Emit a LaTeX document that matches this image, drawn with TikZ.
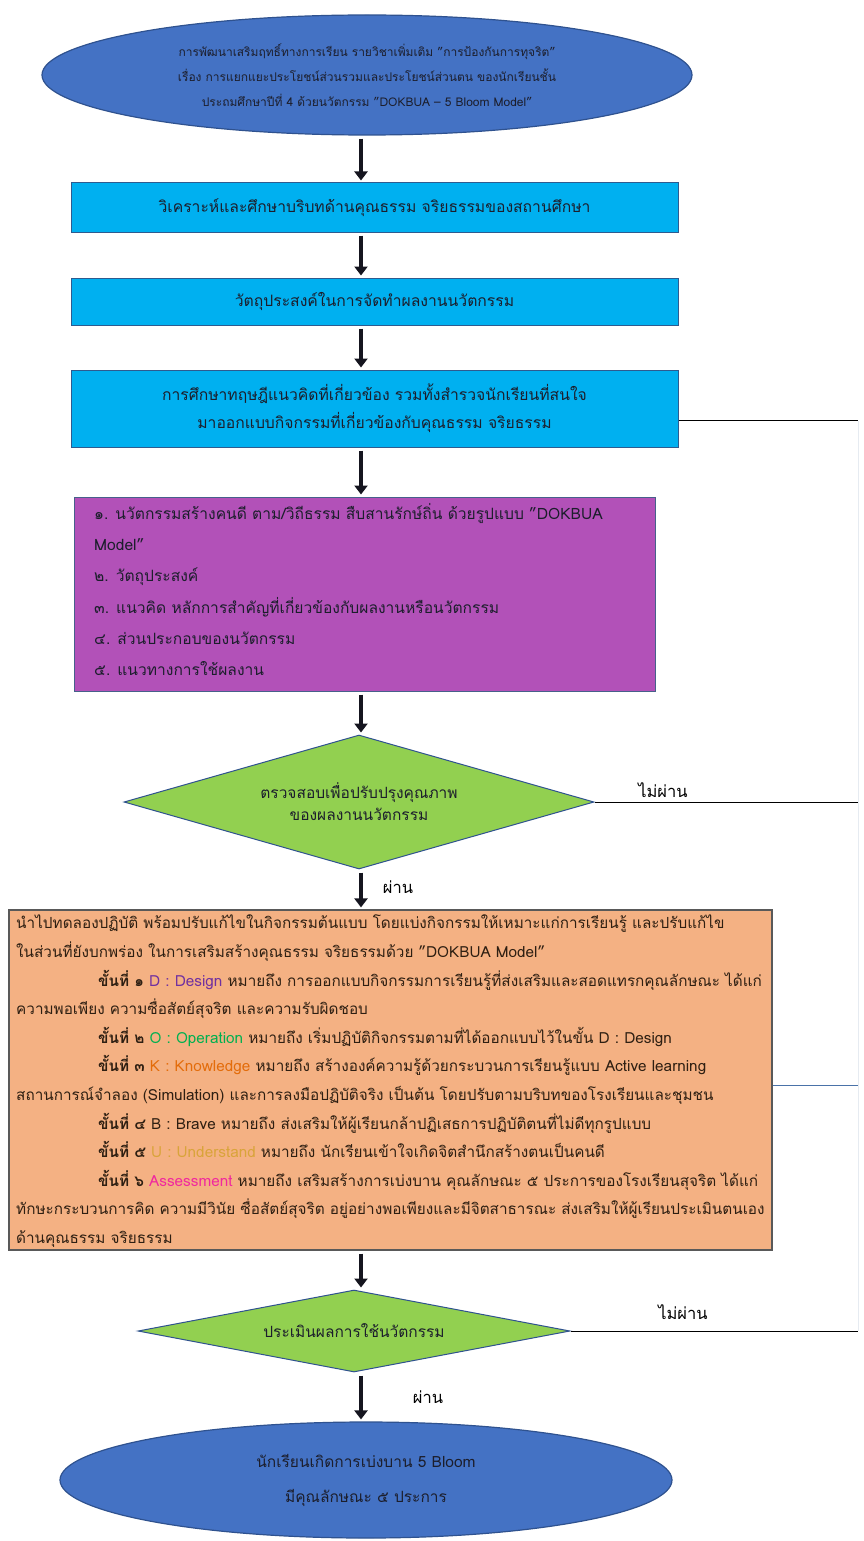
\documentclass[tikz,border=0pt]{standalone}
\usepackage{fontspec}
\setmainfont{Loma}[Script=Thai]
\usetikzlibrary{shapes.geometric,arrows.meta}
\definecolor{ellblue}{HTML}{4472C4}
\definecolor{ellline}{HTML}{2F528F}
\definecolor{cyanbox}{HTML}{00B0F0}
\definecolor{cyanline}{HTML}{2E5B8F}
\definecolor{purplebox}{HTML}{B251B8}
\definecolor{greendia}{HTML}{92D050}
\definecolor{orangebox}{HTML}{F4B183}
\definecolor{txtdark}{HTML}{1C1E2C}
\definecolor{txtbrown}{HTML}{2E1F12}
\definecolor{arrowc}{HTML}{15151F}
\definecolor{cD}{HTML}{7030A0}
\definecolor{cO}{HTML}{00B050}
\definecolor{cK}{HTML}{E36C0A}
\definecolor{cB}{HTML}{2E1F12}
\definecolor{cU}{HTML}{D9A43A}
\definecolor{cA}{HTML}{F0289E}
\definecolor{rline}{HTML}{4A72A8}
\definecolor{faint}{HTML}{E6EBF1}
\newcommand{\ind}{\hspace*{82pt}}
\begin{document}
\begin{tikzpicture}[x=1pt,y=-1pt,
  bodyfont/.style={font=\fontsize{15.3}{28.6}\selectfont},
  bigarrow/.style={line width=4.5pt, draw=arrowc, -{Triangle[width=13pt,length=9pt]}, shorten <=3pt, shorten >=2pt},
  ellnode/.style={ellipse, fill=ellblue, draw=ellline, line width=1.2pt, inner sep=0pt, align=center, text=txtdark},
  cbox/.style={rectangle, fill=cyanbox, draw=cyanline, line width=1pt, minimum width=607pt, align=center, text=txtdark, font=\fontsize{15.7}{28}\selectfont},
  dianode/.style={diamond, fill=greendia, draw=ellline, line width=1pt, inner sep=0pt, align=center, text=txtdark, font=\fontsize{15.5}{22}\selectfont},
  lbl/.style={text=black, font=\fontsize{16.5}{20}\selectfont, inner sep=0pt},
  sideline/.style={draw=black, line width=1pt},
]
\useasboundingbox (0,0) rectangle (863,1541);
\fill[white] (0,0) rectangle (863,1541);
\coordinate (ax) at (361,0);
\coordinate (rx) at (858,0);

% top ellipse
\node[ellnode, minimum width=650pt, minimum height=120pt, font=\fontsize{12}{25}\selectfont] (top) at (367,75)
 {การพัฒนาเสริมฤทธิ์ทางการเรียน รายวิชาเพิ่มเติม "การป้องกันการทุจริต"\\
  เรื่อง การแยกแยะประโยชน์ส่วนรวมและประโยชน์ส่วนตน ของนักเรียนชั้น\\
  ประถมศึกษาปีที่ 4 ด้วยนวัตกรรม "DOKBUA -- 5 Bloom Model"};

% cyan boxes
\node[cbox, minimum height=49pt] (b1) at (374.5,207.5) {วิเคราะห์และศึกษาบริบทด้านคุณธรรม จริยธรรมของสถานศึกษา};
\node[cbox, minimum height=47pt] (b2) at (374.5,301.5) {วัตถุประสงค์ในการจัดทำผลงานนวัตกรรม};
\node[cbox, minimum height=77pt] (b3) at (374.5,408.5) {การศึกษาทฤษฎีแนวคิดที่เกี่ยวข้อง รวมทั้งสำรวจนักเรียนที่สนใจ\\มาออกแบบกิจกรรมที่เกี่ยวข้องกับคุณธรรม จริยธรรม};

% purple box
\node[rectangle, fill=purplebox, draw=ellline!70!gray, line width=1pt, minimum width=581pt, minimum height=194pt] (pb) at (364.5,594) {};
\node[anchor=north west, inner sep=0pt, align=left, text=txtdark, font=\fontsize{15.6}{31.3}\selectfont] (pt) at (94,503)
 {๑. นวัตกรรมสร้างคนดี ตาม/วิถีธรรม สืบสานรักษ์ถิ่น ด้วยรูปแบบ "DOKBUA\\
  Model"\\
  ๒. วัตถุประสงค์\\
  ๓. แนวคิด หลักการสำคัญที่เกี่ยวข้องกับผลงานหรือนวัตกรรม\\
  ๔. ส่วนประกอบของนวัตกรรม\\
  ๕. แนวทางการใช้ผลงาน};

% diamond 1
\node[dianode, aspect=3.5, minimum width=470pt, minimum height=134pt] (d1) at (359,802) {ตรวจสอบเพื่อปรับปรุงคุณภาพ\\ของผลงานนวัตกรรม};

% orange box
\node[rectangle, fill=orangebox, draw=black!65, line width=1.2pt, minimum width=763pt, minimum height=340pt] (ob) at (390.5,1080) {};
\node[anchor=north west, inner sep=0pt, align=left, text=txtbrown, bodyfont] (ot) at (16,915)
 {นำไปทดลองปฏิบัติ พร้อมปรับแก้ไขในกิจกรรมต้นแบบ โดยแบ่งกิจกรรมให้เหมาะแก่การเรียนรู้ และปรับแก้ไข\\
  ในส่วนที่ยังบกพร่อง ในการเสริมสร้างคุณธรรม จริยธรรมด้วย "DOKBUA Model"\\
  \ind\textbf{ขั้นที่ ๑} {\color{cD}D : Design} หมายถึง การออกแบบกิจกรรมการเรียนรู้ที่ส่งเสริมและสอดแทรกคุณลักษณะ ได้แก่\\
  ความพอเพียง ความซื่อสัตย์สุจริต และความรับผิดชอบ\\
  \ind\textbf{ขั้นที่ ๒} {\color{cO}O : Operation} หมายถึง เริ่มปฏิบัติกิจกรรมตามที่ได้ออกแบบไว้ในขั้น D : Design\\
  \ind\textbf{ขั้นที่ ๓} {\color{cK}K : Knowledge} หมายถึง สร้างองค์ความรู้ด้วยกระบวนการเรียนรู้แบบ Active learning\\
  สถานการณ์จำลอง (Simulation) และการลงมือปฏิบัติจริง เป็นต้น โดยปรับตามบริบทของโรงเรียนและชุมชน\\
  \ind\textbf{ขั้นที่ ๔} {\color{cB}B : Brave} หมายถึง ส่งเสริมให้ผู้เรียนกล้าปฏิเสธการปฏิบัติตนที่ไม่ดีทุกรูปแบบ\\
  \ind\textbf{ขั้นที่ ๕} {\color{cU}U : Understand} หมายถึง นักเรียนเข้าใจเกิดจิตสำนึกสร้างตนเป็นคนดี\\
  \ind\textbf{ขั้นที่ ๖} {\color{cA}Assessment} หมายถึง เสริมสร้างการเบ่งบาน คุณลักษณะ ๕ ประการของโรงเรียนสุจริต ได้แก่\\
  ทักษะกระบวนการคิด ความมีวินัย ซื่อสัตย์สุจริต อยู่อย่างพอเพียงและมีจิตสาธารณะ ส่งเสริมให้ผู้เรียนประเมินตนเอง\\
  ด้านคุณธรรม จริยธรรม};

% diamond 2
\node[dianode, aspect=5.3, minimum width=432pt, minimum height=82pt] (d2) at (354,1331) {ประเมินผลการใช้นวัตกรรม};

% bottom ellipse
\node[ellnode, minimum width=612pt, minimum height=116pt, font=\fontsize{15.5}{35}\selectfont] (bot) at (366,1480)
 {นักเรียนเกิดการเบ่งบาน 5 Bloom\\มีคุณลักษณะ ๕ ประการ};

% labels
\node[lbl] (n1) at (663,790) {ไม่ผ่าน};
\node[lbl] (y1) at (398,887) {ผ่าน};
\node[lbl] (n2) at (683,1312) {ไม่ผ่าน};
\node[lbl] (y2) at (428,1397) {ผ่าน};

% main arrows
\draw[bigarrow] (top.south -| ax) -- (b1.north -| ax);
\draw[bigarrow] (b1.south -| ax) -- (b2.north -| ax);
\draw[bigarrow] (b2.south -| ax) -- (b3.north -| ax);
\draw[bigarrow] (b3.south -| ax) -- (pb.north -| ax);
\draw[bigarrow] (pb.south -| ax) -- (d1.north -| ax);
\draw[bigarrow] (d1.south -| ax) -- (ob.north -| ax);
\draw[bigarrow] (ob.south -| ax) -- (d2.north -| ax);
\draw[bigarrow] (d2.south -| ax) -- (bot.north -| ax);

% return lines on the right
\coordinate (r3) at ([yshift=-12pt]b3.east);
\coordinate (ro) at ([yshift=-5pt]ob.east);
\draw[sideline] (r3) -- (r3 -| rx);
\draw[sideline] (d1.east) -- (d1.east -| rx);
\draw[draw=rline, line width=1pt] (ro) -- (ro -| rx);
\draw[sideline] (d2.east) -- (d2.east -| rx);
\draw[draw=faint, line width=1pt] (r3 -| rx) -- (d2.east -| rx);
\end{tikzpicture}
\end{document}
